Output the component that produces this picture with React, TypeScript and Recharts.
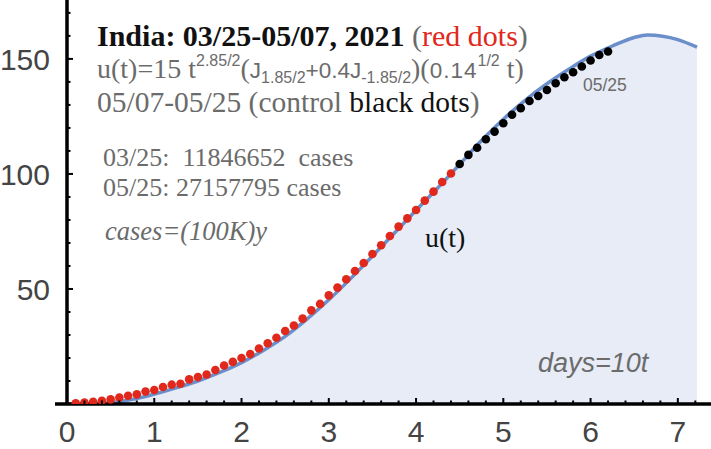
import React from 'react';
import { ComposedChart, Area, Scatter, XAxis, YAxis, ReferenceLine } from 'recharts';

// model curve u(t)
const CURVE_T = [0, 0.25, 0.5, 0.75, 1, 1.25, 1.5, 1.75, 2, 2.25, 2.5, 2.75, 3, 3.25, 3.5, 3.75, 4, 4.25, 4.5, 4.75, 5, 5.25, 5.5, 5.75, 6, 6.25, 6.5, 6.65, 7, 7.22];
const CURVE_U = [0, 0.1, 0.6, 2.0, 4.3, 7.0, 10.0, 13.7, 18.0, 23.3, 29.4, 36.9, 45.3, 54.5, 64.3, 74.2, 84.2, 94.0, 104.2, 114.5, 123.8, 132.0, 139.2, 145.5, 151.2, 155.6, 159.3, 160.4, 158.4, 155.1];

// red dots 03/25-05/07
const RED_T = [0.1, 0.2, 0.3, 0.4, 0.5, 0.6, 0.7, 0.8, 0.9, 1.0, 1.1, 1.2, 1.3, 1.4, 1.5, 1.6, 1.7, 1.8, 1.9, 2.0, 2.1, 2.2, 2.3, 2.4, 2.5, 2.6, 2.7, 2.8, 2.9, 3.0, 3.1, 3.2, 3.3, 3.4, 3.5, 3.6, 3.7, 3.8, 3.9, 4.0, 4.1, 4.2, 4.3, 4.4];
const RED_U = [0.3, 0.6, 1.0, 1.4, 2.0, 2.8, 3.6, 4.2, 5.4, 6.1, 7.4, 8.4, 8.8, 10.7, 11.7, 12.8, 14.8, 16.7, 18.3, 20.0, 21.7, 24.1, 26.4, 28.8, 31.7, 34.1, 37.1, 40.7, 43.5, 47.2, 50.6, 54.2, 57.8, 61.3, 65.2, 69.0, 73.0, 77.1, 80.7, 84.3, 88.4, 92.3, 96.5, 100.2];

// black control dots 05/07-05/25
const BLACK_T = [4.5, 4.6, 4.7, 4.8, 4.9, 5.0, 5.1, 5.2, 5.3, 5.4, 5.5, 5.6, 5.7, 5.8, 5.9, 6.0, 6.1, 6.2];
const BLACK_U = [104.3, 108.3, 111.4, 115.1, 118.4, 122.0, 125.7, 128.6, 131.7, 133.9, 136.5, 139.4, 142.0, 144.2, 146.7, 149.3, 151.7, 153.2];

const X_TICKS = Array.from({ length: 37 }, (_, i) => i / 5);
const Y_TICKS = [10, 20, 30, 40, 50, 60, 70, 80, 90, 100, 110, 120, 130, 140, 150, 160, 170];

const curve = CURVE_T.map((t, i) => ({ t, u: CURVE_U[i] }));
const red = RED_T.map((t, i) => ({ t, u: RED_U[i] }));
const black = BLACK_T.map((t, i) => ({ t, u: BLACK_U[i] }));

const W = 711;
const H = 449;
const AXIS_X = 67;
const AXIS_Y = 404;
const GRAY = '#6b6b6b';
const RED = '#e0281c';
const SERIF = 'Liberation Serif, serif';
const SANS = 'Liberation Sans, Arial, sans-serif';

const XTick = (props: any) => {
  const { x, payload } = props;
  const v = payload.value;
  const major = Math.abs(v - Math.round(v)) < 1e-6;
  return (
    <g>
      <line x1={x} x2={x} y1={AXIS_Y} y2={AXIS_Y - (major ? 6 : 3.5)} stroke="#000" strokeWidth={2} />
      {major && (
        <text x={x} y={442} textAnchor="middle" fontSize={30} fill="#444" fontFamily={SANS}>
          {Math.round(v)}
        </text>
      )}
    </g>
  );
};

const YTick = (props: any) => {
  const { y, payload } = props;
  const v = payload.value;
  const major = v % 50 === 0;
  return (
    <g>
      <line x1={AXIS_X} x2={AXIS_X + (major ? 6 : 3.5)} y1={y} y2={y} stroke="#000" strokeWidth={2} />
      {major && (
        <text x={50} y={y + 11} textAnchor="end" fontSize={30} fill="#444" fontFamily={SANS}>
          {v}
        </text>
      )}
    </g>
  );
};

const dot = (fill: string) => (p: any) => <circle cx={p.cx} cy={p.cy} r={4.3} fill={fill} />;

function Notes() {
  return (
    <svg width={W} height={H} style={{ position: 'absolute', left: 0, top: 0, pointerEvents: 'none' }}>
      <text x={97} y={46} fontFamily={SERIF} fontSize={30}>
        <tspan fontWeight="bold" fill="#111">India: 03/25-05/07, 2021 </tspan>
        <tspan fill={GRAY}>(</tspan>
        <tspan fill={RED}>red dots</tspan>
        <tspan fill={GRAY}>)</tspan>
      </text>
      <text x={97} y={78} fontFamily={SERIF} fontSize={28} fill={GRAY}>
        <tspan>u(t)=15 t</tspan>
        <tspan fontFamily={SANS} fontSize={16} dy={-12}>2.85/2</tspan>
        <tspan dy={12}>(</tspan>
        <tspan fontFamily={SANS} fontSize={22.5}>J</tspan>
        <tspan fontFamily={SANS} fontSize={16} dy={5}>1.85/2</tspan>
        <tspan fontFamily={SANS} fontSize={22.5} dy={-5}>+0.4J</tspan>
        <tspan fontFamily={SANS} fontSize={16} dy={5}>-1.85/2</tspan>
        <tspan dy={-5}>)(</tspan>
        <tspan fontFamily={SANS} fontSize={22.5} letterSpacing={1}>0.14</tspan>
        <tspan fontFamily={SANS} fontSize={16} dy={-12}>1/2</tspan>
        <tspan dy={12}>{' t)'}</tspan>
      </text>
      <text x={97} y={112} fontFamily={SERIF} fontSize={29.5} fill={GRAY}>
        <tspan>05/07-05/25 (control </tspan>
        <tspan fill="#111">black dots</tspan>
        <tspan>)</tspan>
      </text>
      <text x={103} y={166} fontFamily={SERIF} fontSize={26} fill={GRAY} xmlSpace="preserve">
        03/25:  11846652  cases
      </text>
      <text x={103} y={196} fontFamily={SERIF} fontSize={26} fill={GRAY}>
        05/25: 27157795 cases
      </text>
      <text x={105} y={240} fontFamily={SERIF} fontSize={26.5} fontStyle="italic" fill={GRAY}>
        cases=(100K)y
      </text>
      <text x={425} y={247} fontFamily={SERIF} fontSize={28} fill="#111">
        u(t)
      </text>
      <text x={583} y={91} fontFamily={SANS} fontSize={17.5} fill={GRAY}>
        05/25
      </text>
      <text x={538} y={372} fontFamily={SANS} fontSize={27} fontStyle="italic" fill={GRAY}>
        days=10t
      </text>
    </svg>
  );
}

export default function App() {
  return (
    <div style={{ position: 'absolute', left: 0, top: 0, width: W, height: H, background: '#fff' }}>
      <ComposedChart width={W} height={H} margin={{ top: 0, right: 0, bottom: 0, left: 0 }}>
        <XAxis
          dataKey="t"
          type="number"
          domain={[0, 7.38]}
          ticks={X_TICKS}
          interval={0}
          padding={{ left: 12, right: 0 }}
          height={45}
          axisLine={{ stroke: '#000', strokeWidth: 3.5 }}
          tickLine={false}
          tick={<XTick />}
          allowDataOverflow
        />
        <YAxis
          type="number"
          domain={[0, 175.6]}
          ticks={Y_TICKS}
          interval={0}
          width={55}
          axisLine={false}
          tickLine={false}
          tick={<YTick />}
          allowDataOverflow
        />
        <Area
          data={curve}
          dataKey="u"
          type="monotone"
          stroke="#6a8fcb"
          strokeWidth={3.5}
          fill="#e7ecf6"
          fillOpacity={1}
          dot={false}
          activeDot={false}
          isAnimationActive={false}
        />
        <ReferenceLine x={0} stroke="#000" strokeWidth={3.5} />
        <Scatter data={red} dataKey="u" shape={dot(RED)} isAnimationActive={false} />
        <Scatter data={black} dataKey="u" shape={dot('#000')} isAnimationActive={false} />
      </ComposedChart>
      <Notes />
    </div>
  );
}
